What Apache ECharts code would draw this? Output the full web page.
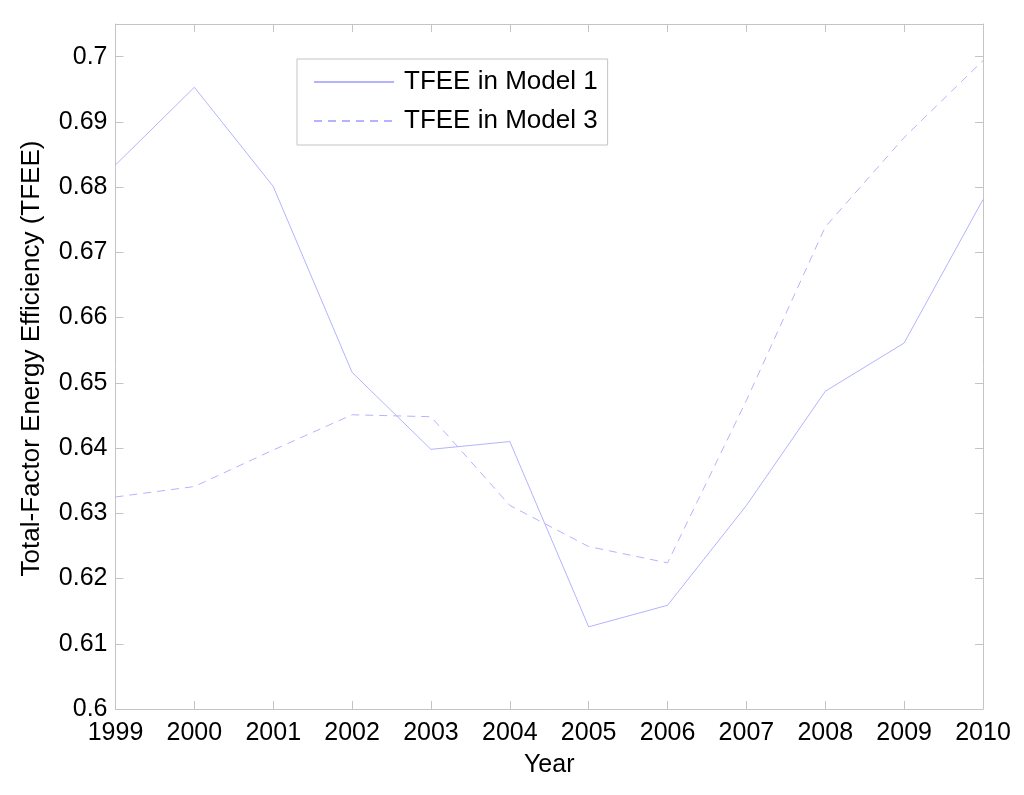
<!DOCTYPE html>
<html>
<head>
<meta charset="utf-8">
<script src="https://cdn.jsdelivr.net/npm/echarts@6/dist/echarts.min.js"></script>
<style>html,body{margin:0;padding:0;background:#fff}#c{width:1024px;height:795px}</style>
</head>
<body>
<div id="c"></div>
<script>
const years = ['1999','2000','2001','2002','2003','2004','2005','2006','2007','2008','2009','2010'];
const model1 = [0.6834,0.6953,0.6801,0.6516,0.6398,0.6410,0.6126,0.6159,0.6312,0.6487,0.6561,0.6781];
const model3 = [0.6325,0.6341,0.6397,0.6451,0.6448,0.6312,0.6249,0.6224,0.6473,0.6739,0.6876,0.6994];
const yTicks = ['0.6','0.61','0.62','0.63','0.64','0.65','0.66','0.67','0.68','0.69','0.7'];
const seriesNames = ['TFEE in Model 1','TFEE in Model 3'];

const lineColor = '#b3b3ff';
const frameColor = '#c4c4c4';
const font = 'Liberation Sans, Arial, Helvetica, sans-serif';

const chart = echarts.init(document.getElementById('c'));
const yMin = 0.6, yMax = 0.705;
function yFmt(v){
  if (v > 0.7001) return '';
  const s = yTicks.find(t => Math.abs(parseFloat(t) - v) < 1e-6);
  return s || '';
}
const commonY = {
  type:'value', min:yMin, max:yMax, interval:0.01,
  splitLine:{show:false},
  axisLine:{show:true, lineStyle:{color:frameColor, width:1}},
  axisTick:{show:true, inside:true, length:8, lineStyle:{color:frameColor}}
};
const commonX = {
  type:'category', data:years, boundaryGap:false,
  splitLine:{show:false},
  axisLine:{show:true, lineStyle:{color:frameColor, width:1}},
  axisTick:{show:true, inside:true, length:8, alignWithLabel:true, lineStyle:{color:frameColor}}
};
chart.setOption({
  animation:false,
  backgroundColor:'#fff',
  grid:{left:115.5, right:41, top:24, bottom:86, show:false},
  legend:{
    data:seriesNames,
    orient:'vertical', left:297, top:59,
    padding:[10,10,11,16],
    itemWidth:80, itemHeight:22, itemGap:13,
    itemStyle:{color:'rgba(0,0,0,0)', borderWidth:0, opacity:0},
    borderColor:frameColor, borderWidth:1,
    backgroundColor:'#fff',
    textStyle:{fontFamily:font, fontSize:26, color:'#000', padding:[0,0,0,5]}
  },
  xAxis:[
    Object.assign({}, commonX, {
      position:'bottom',
      name:'Year', nameLocation:'middle', nameGap:44,
      nameTextStyle:{fontFamily:font, fontSize:25, color:'#000'},
      axisLabel:{fontFamily:font, fontSize:25, color:'#000', margin:12, interval:0}
    }),
    Object.assign({}, commonX, {position:'top', axisLabel:{show:false}})
  ],
  yAxis:[
    Object.assign({}, commonY, {
      position:'left',
      name:'Total-Factor Energy Efficiency (TFEE)', nameLocation:'middle', nameGap:71,
      nameTextStyle:{fontFamily:font, fontSize:26, color:'#000', padding:[0,0,0,16]},
      axisLabel:{fontFamily:font, fontSize:25, color:'#000', margin:8, formatter:yFmt}
    }),
    Object.assign({}, commonY, {position:'right', axisLabel:{show:false}})
  ],
  series:[
    {name:seriesNames[0], type:'line', data:model1, symbol:'none', xAxisIndex:0, yAxisIndex:0,
     itemStyle:{color:lineColor}, lineStyle:{color:lineColor, width:1, type:'solid'}},
    {name:seriesNames[1], type:'line', data:model3, symbol:'none', xAxisIndex:0, yAxisIndex:0,
     itemStyle:{color:lineColor}, lineStyle:{color:lineColor, width:1, type:[8,6]}}
  ]
});
</script>
</body>
</html>
